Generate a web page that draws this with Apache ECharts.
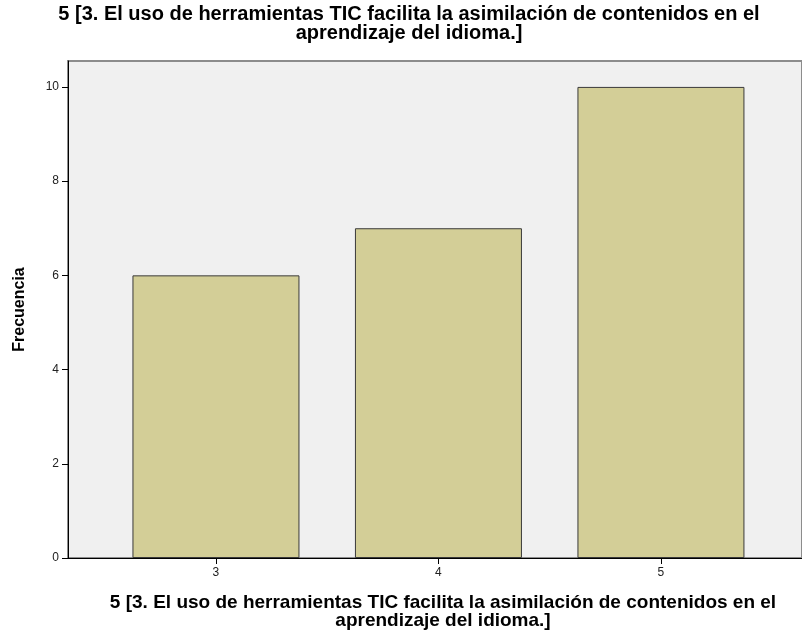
<!DOCTYPE html>
<html>
<head>
<meta charset="utf-8">
<script src="https://cdn.jsdelivr.net/npm/echarts@6/dist/echarts.min.js"></script>
<style>
  html, body { margin: 0; padding: 0; background: #fff; }
  #chart { width: 802px; height: 637px; }
</style>
</head>
<body>
<div id="chart"></div>
<script>
  const categories = [3, 4, 5];
  const frecuencia = [6, 7, 10];
  const yTicks = [0, 2, 4, 6, 8, 10];
  const titleText = '5 [3. El uso de herramientas TIC facilita la asimilación de contenidos en el\naprendizaje del idioma.]';

  const chart = echarts.init(document.getElementById('chart'));
  const option = {
    animation: false,
    textStyle: { fontFamily: 'Liberation Sans, Arial, sans-serif' },
    title: [
      {
        text: titleText,
        left: 404,
        top: 0,
        textAlign: 'center',
        textStyle: { fontSize: 20, fontWeight: 'bold', color: '#000', lineHeight: 19 }
      },
      {
        text: titleText,
        left: 438,
        top: 589,
        textAlign: 'center',
        textStyle: { fontSize: 19, fontWeight: 'bold', color: '#000', lineHeight: 18 }
      }
    ],
    grid: {
      left: 68,
      top: 61,
      right: 0,
      bottom: 79,
      show: true,
      backgroundColor: '#f0f0f0',
      borderColor: '#8c8c8c',
      borderWidth: 2
    },
    xAxis: {
      type: 'value',
      min: 2.335,
      max: 5.634,
      splitLine: { show: false },
      axisLine: { show: true, lineStyle: { color: '#000', width: 1 } },
      axisTick: { show: true, customValues: categories, length: 6, lineStyle: { color: '#000' } },
      axisLabel: { customValues: categories, color: '#222', fontSize: 12, margin: 9 }
    },
    yAxis: {
      type: 'value',
      min: 0,
      max: 10.55,
      name: 'Frecuencia',
      nameLocation: 'middle',
      nameGap: 40,
      nameTextStyle: { fontSize: 16, fontWeight: 'bold', color: '#000' },
      splitLine: { show: false },
      axisLine: { show: true, lineStyle: { color: '#000', width: 1 } },
      axisTick: { show: true, customValues: yTicks, length: 6, lineStyle: { color: '#000' } },
      axisLabel: { customValues: yTicks, color: '#222', fontSize: 12, margin: 9 }
    },
    series: [
      {
        type: 'bar',
        data: categories.map((c, i) => [c, frecuencia[i]]),
        barWidth: 167,
        itemStyle: { color: '#d3ce97', borderColor: '#3a3a3a', borderWidth: 1 }
      }
    ]
  };
  chart.setOption(option);
</script>
</body>
</html>
